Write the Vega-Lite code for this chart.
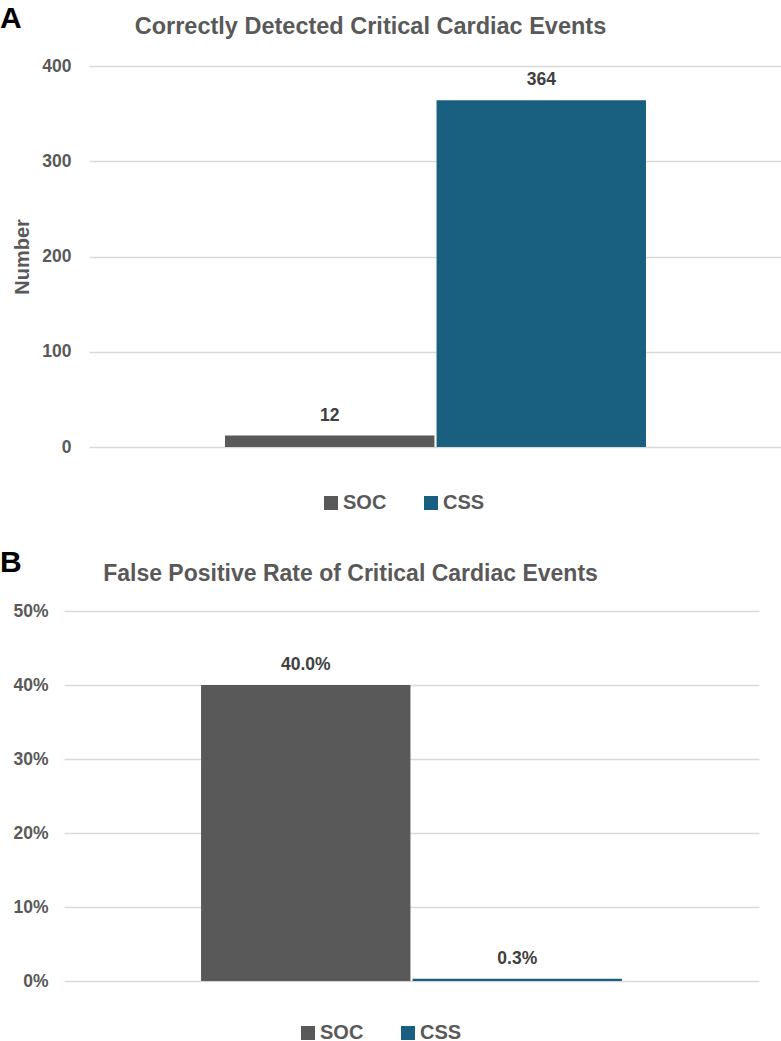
{
  "$schema": "https://vega.github.io/schema/vega-lite/v6.json",
  "padding": {"left": 0, "top": 3, "right": 0, "bottom": 0},
  "autosize": {"type": "pad"},
  "background": "white",
  "config": {
    "font": "Liberation Sans",
    "view": {"stroke": null},
    "axis": {
      "labelFont": "Liberation Sans",
      "labelFontSize": 17.5,
      "labelFontWeight": "bold",
      "labelColor": "#595959",
      "gridColor": "#d9d9d9",
      "gridWidth": 1.5,
      "domain": false,
      "ticks": false,
      "titleFont": "Liberation Sans",
      "titleFontSize": 20,
      "titleFontWeight": "bold",
      "titleColor": "#595959"
    },
    "legend": {
      "labelFont": "Liberation Sans",
      "labelFontSize": 20,
      "labelFontWeight": "bold",
      "labelColor": "#595959",
      "symbolType": "square",
      "symbolSize": 196,
      "symbolStrokeWidth": 0,
      "symbolOpacity": 1,
      "labelOffset": 2,
      "columnPadding": 34,
      "direction": "horizontal",
      "orient": "none"
    },
    "title": {
      "font": "Liberation Sans",
      "fontWeight": "bold",
      "color": "#595959",
      "fontSize": 23
    }
  },
  "spacing": 35,
  "vconcat": [
    {
      "title": {"text": "A", "anchor": "start", "frame": "bounds", "dx": -11, "offset": -19, "fontSize": 30, "color": "#000000", "font": "Liberation Sans", "fontWeight": "bold"},
      "spacing": 0,
      "hconcat": [
        {"width": 1, "height": 1, "data": {"values": []}, "mark": "point", "encoding": {}},
        {
          "width": 693,
          "height": 381,
          "title": {"text": "Correctly Detected Critical Cardiac Events", "dx": -65, "offset": 19, "fontSize": 23.5},
          "data": {"values": [
            {"group": "SOC", "value": 12},
            {"group": "CSS", "value": 364}
          ]},
          "encoding": {
            "x": {"field": "group", "type": "nominal", "sort": ["SOC", "CSS"], "axis": null,
                  "scale": {"paddingInner": 0.01, "paddingOuter": 0.643}},
            "y": {"field": "value", "type": "quantitative",
                  "scale": {"domain": [0, 400]},
                  "axis": {"title": "Number", "values": [0, 100, 200, 300, 400], "labelPadding": 18, "titlePadding": 9}}
          },
          "layer": [
            {
              "mark": {"type": "bar"},
              "encoding": {
                "color": {"field": "group", "type": "nominal",
                          "scale": {"domain": ["SOC", "CSS"], "range": ["#595959", "#196080"]},
                          "legend": {"title": null, "legendX": 310, "legendY": 427}}
              }
            },
            {
              "mark": {"type": "text", "dy": -20, "baseline": "middle", "font": "Liberation Sans", "fontWeight": "bold", "fontSize": 17.5, "color": "#404040"},
              "encoding": {"text": {"field": "value", "type": "quantitative"}}
            }
          ]
        }
      ]
    },
    {
      "title": {"text": "B", "anchor": "start", "frame": "bounds", "dx": -11, "offset": -15, "fontSize": 30, "color": "#000000", "font": "Liberation Sans", "fontWeight": "bold"},
      "spacing": 0,
      "hconcat": [
        {"width": 1, "height": 1, "data": {"values": []}, "mark": "point", "encoding": {}},
        {
          "width": 695,
          "height": 370,
          "title": {"text": "False Positive Rate of Critical Cardiac Events", "dx": -61, "offset": 16},
          "data": {"values": [
            {"group": "SOC", "value": 0.4},
            {"group": "CSS", "value": 0.003}
          ]},
          "encoding": {
            "x": {"field": "group", "type": "nominal", "sort": ["SOC", "CSS"], "axis": null,
                  "scale": {"paddingInner": 0.01, "paddingOuter": 0.648}},
            "y": {"field": "value", "type": "quantitative",
                  "scale": {"domain": [0, 0.5]},
                  "axis": {"title": null, "values": [0, 0.1, 0.2, 0.3, 0.4, 0.5], "format": ".0%", "labelPadding": 16}}
          },
          "layer": [
            {
              "mark": {"type": "bar"},
              "encoding": {
                "color": {"field": "group", "type": "nominal",
                          "scale": {"domain": ["SOC", "CSS"], "range": ["#595959", "#196080"]},
                          "legend": {"title": null, "legendX": 287, "legendY": 412}}
              }
            },
            {
              "mark": {"type": "text", "dy": -20, "baseline": "middle", "font": "Liberation Sans", "fontWeight": "bold", "fontSize": 17.5, "color": "#404040"},
              "encoding": {"text": {"field": "value", "type": "quantitative", "format": ".1%"}}
            }
          ]
        }
      ]
    }
  ],
  "resolve": {"scale": {"color": "independent"}}
}
